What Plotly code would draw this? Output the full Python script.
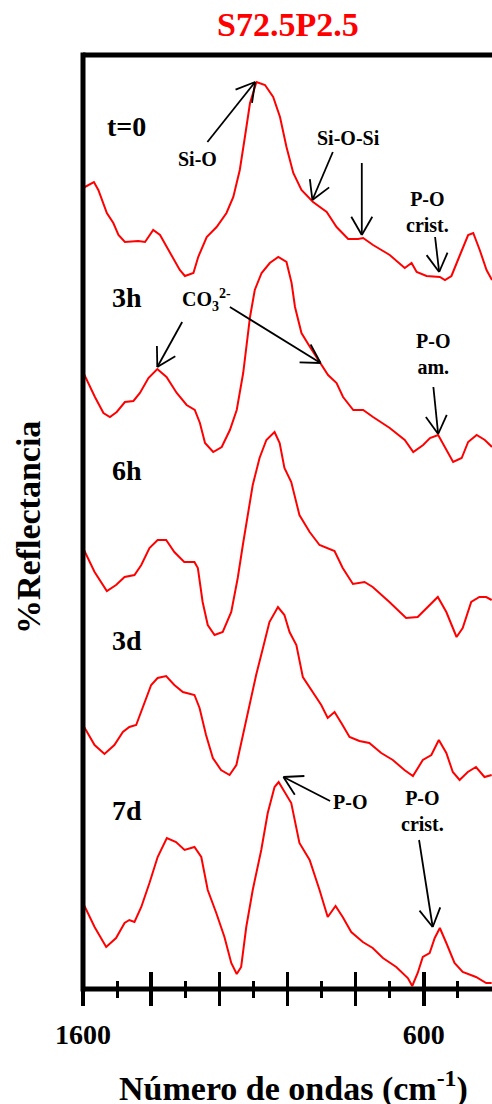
import math
import plotly.graph_objects as go

# ---------------- data ----------------
wn_t0 = [1600, 1568, 1555, 1530, 1511, 1496, 1477, 1438, 1418, 1394, 1374, 1345, 1316, 1301,
         1276, 1262, 1237, 1208, 1179, 1159, 1140, 1125, 1110, 1091, 1066, 1042, 1022, 1003,
         983, 959, 925, 885, 856, 822, 793, 778, 749, 700, 656, 636, 621, 592, 553, 538, 519,
         494, 470, 455, 436, 416, 400]
R_t0 = [801, 807, 799, 776, 766, 754, 747, 748, 747, 759, 754, 736, 719, 713,
        716, 732, 752, 762, 776, 792, 819, 852, 886, 907, 904, 892, 872, 842,
        816, 799, 787, 777, 762, 750, 750, 751, 744, 734, 721, 726, 717, 713, 712, 709, 713,
        734, 754, 756, 739, 719, 709]

wn_3h = [1600, 1565, 1540, 1521, 1501, 1477, 1452, 1433, 1408, 1382, 1355, 1325, 1296, 1272,
         1257, 1242, 1218, 1193, 1169, 1149, 1130, 1120, 1110, 1096, 1076, 1052, 1027, 1003,
         988, 978, 959, 934, 905, 881, 856, 837, 807, 778, 749, 700, 656, 631, 602, 582, 558,
         533, 514, 489, 470, 445, 421, 400]
R_3h = [617, 592, 576, 572, 577, 587, 588, 596, 611, 620, 612, 596, 584, 579,
        566, 546, 537, 542, 559, 579, 616, 646, 672, 699, 716, 726, 732, 727,
        706, 682, 656, 642, 626, 614, 606, 592, 579, 579, 572, 561, 549, 537, 544, 551, 554,
        539, 527, 531, 547, 554, 549, 542]

wn_6h = [1600, 1566, 1530, 1503, 1478, 1449, 1429, 1405, 1381, 1356, 1332, 1303, 1273, 1263,
         1249, 1234, 1214, 1190, 1165, 1146, 1131, 1116, 1102, 1082, 1062, 1038, 1023, 1009,
         989, 965, 935, 906, 862, 838, 808, 774, 750, 701, 652, 618, 588, 559, 534, 504, 486,
         461, 437, 417, 401]
R_6h = [441, 417, 398, 404, 412, 414, 424, 441, 449, 449, 437, 427, 427, 421,
        387, 364, 354, 357, 377, 411, 444, 474, 504, 531, 549, 557, 546, 521,
        507, 474, 457, 444, 438, 421, 405, 407, 402, 387, 371, 372, 382, 392, 377, 352, 361,
        387, 392, 392, 389]

wn_3d = [1600, 1566, 1537, 1508, 1483, 1464, 1444, 1425, 1400, 1381, 1356, 1332, 1307, 1273,
         1258, 1239, 1219, 1195, 1170, 1150, 1131, 1111, 1092, 1072, 1053, 1028, 1009, 994,
         974, 955, 926, 901, 882, 862, 842, 818, 789, 760, 725, 691, 657, 632, 603, 578, 556,
         534, 515, 495, 471, 447, 422, 401]
R_3d = [264, 244, 235, 244, 257, 262, 264, 281, 304, 311, 313, 304, 297, 294,
        281, 254, 231, 219, 214, 224, 254, 284, 314, 341, 367, 382, 374, 357,
        344, 312, 297, 284, 271, 277, 266, 252, 248, 246, 236, 229, 219, 213, 229, 234, 249,
        236, 217, 209, 217, 222, 212, 214]

wn_7d = [1600, 1566, 1532, 1503, 1478, 1464, 1449, 1429, 1405, 1381, 1354, 1327, 1302, 1273,
         1253, 1234, 1209, 1185, 1165, 1149, 1136, 1121, 1102, 1077, 1058, 1038, 1026, 1009,
         989, 965, 935, 906, 882, 859, 838, 813, 779, 750, 720, 681, 647, 634, 618, 603, 583,
         568, 553, 534, 510, 486, 447, 417, 401]
R_7d = [86, 62, 42, 51, 66, 69, 67, 82, 106, 132, 151, 147, 139, 142,
        132, 99, 76, 52, 26, 15, 22, 62, 99, 139, 176, 202, 207, 197,
        186, 146, 129, 99, 72, 83, 72, 57, 47, 41, 31, 22, 11, 3, 16, 32, 36,
        51, 61, 46, 26, 17, 12, 6, 6]

series_names = ["t=0", "3h", "6h", "3d", "7d"]
series_wn = [wn_t0, wn_3h, wn_6h, wn_3d, wn_7d]
series_R = [R_t0, R_3h, R_6h, R_3d, R_7d]

major_ticks = [1600, 1400, 1200, 1000, 800, 600]
minor_ticks = [1500, 1300, 1100, 900, 700, 500]
label_ticks = [1600, 600]
label_text = ["1600", "600"]

# ---------------- layout constants ----------------
W, H = 492, 1104
ML, MR, MT, MB = 83, 0, 55, 115
PW, PH = W - ML - MR, H - MT - MB
XR = [1600, 400]
YR = [0, 934]
FONT = "Liberation Serif"
RED = "#ff0000"

# series label positions (wavenumber, value)
label_pos = [(1472, 863), (1472, 692), (1472, 519), (1472, 349), (1472, 179)]

# band annotations: text, wavenumber, value
band_text = [
    ("Si-O", 1265, 830),
    ("Si-O-Si", 822, 851),
    ("P-O<br>crist.", 588, 777),
    ("CO<sub>3</sub><sup>2-</sup>", 1239, 689),
    ("P-O<br>am.", 572, 635),
    ("P-O", 817, 187),
    ("P-O<br>crist.", 604, 178),
]

# arrows: tail (wn, value) -> tip (wn, value)
arrows = [
    (1235, 847, 1095, 907),
    (867, 837, 927, 789),
    (782, 826, 782, 754),
    (567, 752, 555, 717),
    (1309, 667, 1382, 622),
    (1169, 682, 903, 626),
    (572, 602, 558, 555),
    (875, 188, 1012, 212),
    (614, 149, 574, 62),
]

fig = go.Figure()
for name, xs, ys in zip(series_names, series_wn, series_R):
    fig.add_trace(go.Scatter(x=xs, y=ys, mode="lines", name=name,
                             line=dict(color=RED, width=2), showlegend=False,
                             hoverinfo="skip"))
# empty traces so the overlay axes (upward ticks, tick labels) are drawn
for ax_id in ("x2", "x3"):
    fig.add_trace(go.Scatter(x=[None], y=[None], xaxis=ax_id, showlegend=False,
                             hoverinfo="skip"))

sx = PW / abs(XR[0] - XR[1])
sy = PH / abs(YR[1] - YR[0])

def to_px(wn, v):
    return ((XR[0] - wn) * sx, v * sy)

def to_data(X, Y):
    return (XR[0] - X / sx, Y / sy)

shapes = []
LW_AR = 1.8
ARM = 21
ANG = math.radians(30)
for (tx, ty, hx, hy) in arrows:
    shapes.append(dict(type="line", xref="x", yref="y", x0=tx, y0=ty, x1=hx, y1=hy,
                       line=dict(color="black", width=LW_AR)))
    TX, TY = to_px(tx, ty)
    HX, HY = to_px(hx, hy)
    dx, dy = TX - HX, TY - HY
    L = math.hypot(dx, dy)
    ux, uy = dx / L, dy / L
    for s in (1, -1):
        c, sn = math.cos(s * ANG), math.sin(s * ANG)
        ax = HX + ARM * (ux * c - uy * sn)
        ay = HY + ARM * (ux * sn + uy * c)
        wx, wy = to_data(ax, ay)
        shapes.append(dict(type="line", xref="x", yref="y", x0=hx, y0=hy, x1=wx, y1=wy,
                           line=dict(color="black", width=LW_AR)))

# spines (left, bottom, top)
ex = 2.5 / PH
shapes.append(dict(type="line", xref="paper", yref="paper", x0=0, x1=0, y0=-ex, y1=1 + ex,
                   line=dict(color="black", width=5)))
shapes.append(dict(type="line", xref="paper", yref="paper", x0=0, x1=1, y0=0, y1=0,
                   line=dict(color="black", width=5)))
shapes.append(dict(type="line", xref="paper", yref="paper", x0=0, x1=1, y0=1, y1=1,
                   line=dict(color="black", width=5)))

annotations = []
for name, (lx, ly) in zip(series_names, label_pos):
    annotations.append(dict(text=name, x=lx, y=ly, xref="x", yref="y", showarrow=False,
                            font=dict(family=FONT, size=28, color="black", weight="bold")))
for (t, bx, by) in band_text:
    annotations.append(dict(text=t, x=bx, y=by, xref="x", yref="y", showarrow=False,
                            font=dict(family=FONT, size=20, color="black", weight="bold")))
annotations.append(dict(text="S72.5P2.5", x=(288 - ML) / PW, y=1, yshift=31, xref="paper",
                        yref="paper", showarrow=False, yanchor="middle",
                        font=dict(family=FONT, size=34, color=RED, weight="bold")))
annotations.append(dict(text="Número de ondas (cm<sup>-1</sup>)", x=(293 - ML) / PW, y=0,
                        yshift=-97, xref="paper", yref="paper", showarrow=False,
                        yanchor="middle",
                        font=dict(family=FONT, size=34, color="black", weight="bold")))
annotations.append(dict(text="%Reflectancia", x=0, xshift=-55, y=(989 - 528) / PH,
                        xref="paper", yref="paper", showarrow=False, textangle=-90,
                        xanchor="center", yanchor="middle",
                        font=dict(family=FONT, size=34, color="black", weight="bold")))

fig.update_layout(
    width=W, height=H, autosize=False,
    margin=dict(l=ML, r=MR, t=MT, b=MB, pad=0),
    paper_bgcolor="white", plot_bgcolor="white",
    showlegend=False,
    xaxis=dict(range=XR, showgrid=False, zeroline=False, showline=False,
               tickmode="array", tickvals=major_ticks, showticklabels=False,
               ticks="outside", ticklen=16, tickwidth=3.5, tickcolor="black",
               minor=dict(tickmode="array", tickvals=minor_ticks, ticks="outside",
                          ticklen=8, tickwidth=3, tickcolor="black", showgrid=False)),
    xaxis2=dict(range=XR, overlaying="x", anchor="y", side="bottom", showgrid=False,
                zeroline=False, showline=False, showticklabels=False,
                tickmode="array", tickvals=major_ticks,
                ticks="inside", ticklen=17, tickwidth=3.5, tickcolor="black",
                minor=dict(tickmode="array", tickvals=minor_ticks, ticks="inside",
                           ticklen=8, tickwidth=3, tickcolor="black", showgrid=False)),
    xaxis3=dict(range=XR, overlaying="x", anchor="y", side="bottom", showgrid=False,
                zeroline=False, showline=False,
                tickmode="array", tickvals=label_ticks, ticktext=label_text,
                ticks="outside", ticklen=20, tickcolor="rgba(0,0,0,0)",
                tickfont=dict(family=FONT, size=28, color="black", weight="bold")),
    yaxis=dict(range=YR, visible=False, showgrid=False, zeroline=False),
    shapes=shapes,
    annotations=annotations,
)

fig.write_html("out.html", config={"displayModeBar": False, "staticPlot": True},
               post_script="document.body.style.margin='0px';")
